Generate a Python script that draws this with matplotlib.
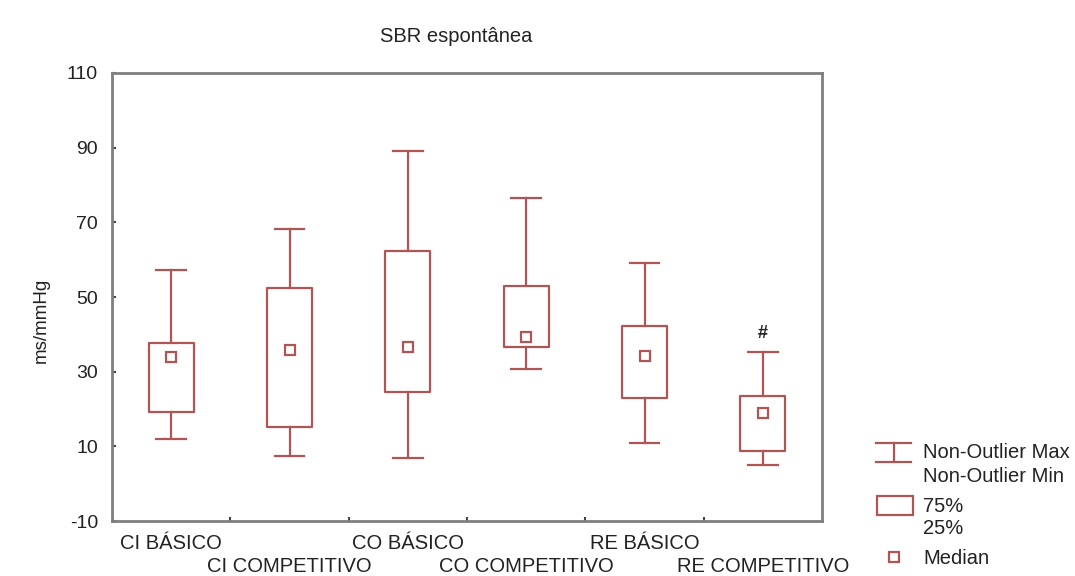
import matplotlib.pyplot as plt
from matplotlib.lines import Line2D
from matplotlib.patches import Rectangle

# valores do SBR espontâneo por grupo
grupos = ["CI BÁSICO", "CI COMPETITIVO", "CO BÁSICO", "CO COMPETITIVO", "RE BÁSICO", "RE COMPETITIVO"]
w_min = [12.0, 7.4, 6.9, 30.7, 10.9, 5.0]
q25 = [19.2, 15.2, 24.6, 36.6, 22.9, 8.8]
mediana = [33.9, 35.8, 36.6, 39.3, 34.2, 18.9]
q75 = [37.7, 52.4, 62.3, 53.0, 42.2, 23.5]
w_max = [57.2, 68.2, 89.1, 76.5, 59.1, 35.3]
sinal = ["", "", "", "", "", "#"]

cor = "#b05555"
cinza = "#7f7f7f"
texto = "#222222"
plt.rcParams['font.family'] = ['Liberation Sans', 'DejaVu Sans']
plt.rcParams['axes.unicode_minus'] = False

fig = plt.figure(figsize=(10.75, 5.76), dpi=100)
W, H = 1075, 576
ax = fig.add_axes([112 / W, 1 - 521 / H, (822 - 112) / W, (521 - 73) / H])

larg_caixa = 0.38
larg_cap = 0.25
for i in range(len(grupos)):
    # bigodes
    ax.plot([i, i], [w_min[i], q25[i]], color=cor, lw=1.6)
    ax.plot([i, i], [q75[i], w_max[i]], color=cor, lw=1.6)
    ax.plot([i - larg_cap / 2, i + larg_cap / 2], [w_min[i]] * 2, color=cor, lw=1.6)
    ax.plot([i - larg_cap / 2, i + larg_cap / 2], [w_max[i]] * 2, color=cor, lw=1.6)
    # caixa 25%-75%
    ax.add_patch(Rectangle((i - larg_caixa / 2, q25[i]), larg_caixa, q75[i] - q25[i],
                           fill=False, edgecolor=cor, lw=1.6, joinstyle='round'))
    # mediana
    ax.plot(i, mediana[i], 's', ms=7, mfc='white', mec=cor, mew=1.6)
    if sinal[i]:
        ax.text(i, w_max[i] + 5, sinal[i], ha='center', va='center', fontsize=13,
                fontweight='bold', color=texto)

ax.set_xlim(-0.5, 5.5)
ax.set_ylim(-10, 110)
ax.set_yticks(range(-10, 111, 20))
ax.set_xticks([0.5, 1.5, 2.5, 3.5, 4.5])
ax.set_xticklabels([])
ax.tick_params(axis='both', direction='in', length=3, width=1.5, color='#444444',
               labelsize=14, pad=10, labelcolor=texto)
for s in ax.spines.values():
    s.set_color(cinza)
    s.set_linewidth(2)

# rótulos dos grupos em duas linhas alternadas
for i, g in enumerate(grupos):
    y = -0.05 if i % 2 == 0 else -0.102
    ax.text(i, y, g, transform=ax.get_xaxis_transform(), ha='center', va='center',
            fontsize=14.5, color=texto)

fig.text(41 / W, 1 - 320 / H, "ms/mmHg", rotation=90, ha='center', va='center',
         fontsize=13.5, color=texto)
fig.text(456 / W, 1 - 37 / H, "SBR espontânea", ha='center', va='center',
         fontsize=14.5, color=texto)

# legenda desenhada à parte
lg = fig.add_axes([0, 0, 1, 1], facecolor='none')
lg.set_xlim(0, W)
lg.set_ylim(H, 0)
lg.axis('off')
lg.add_line(Line2D([876, 911], [443, 443], color=cor, lw=1.6))
lg.add_line(Line2D([876, 911], [462, 462], color=cor, lw=1.6))
lg.add_line(Line2D([893.5, 893.5], [443, 462], color=cor, lw=1.6))
lg.add_patch(Rectangle((877, 496), 36, 19, fill=False, edgecolor=cor, lw=1.6))
lg.plot(894, 557, 's', ms=7, mfc='white', mec=cor, mew=1.6)
for txt, yy in [("Non-Outlier Max", 453), ("Non-Outlier Min", 477), ("75%", 506),
                ("25%", 528), ("Median", 558)]:
    lg.text(923, yy, txt, ha='left', va='center', fontsize=14.5, color=texto)

fig.savefig("out.png", dpi=100)
